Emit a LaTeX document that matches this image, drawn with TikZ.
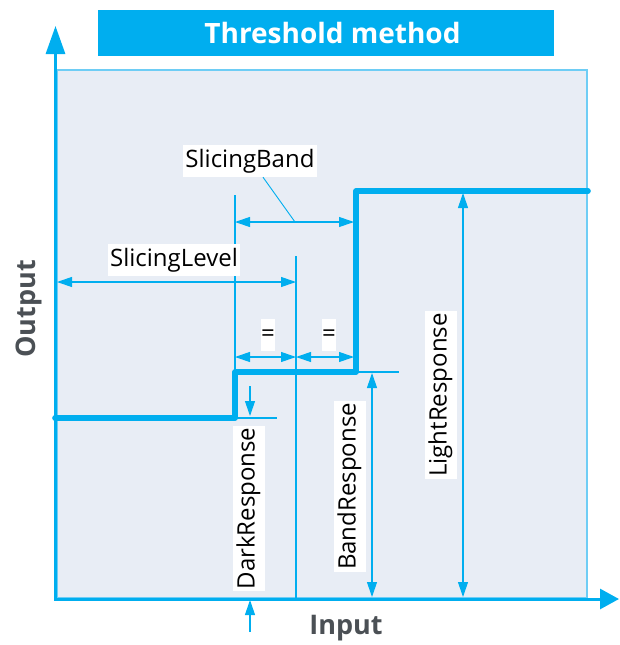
\documentclass[tikz,border=0pt]{standalone}
\usepackage{fontspec}
\setmainfont{Open Sans}
\usetikzlibrary{arrows.meta}
\definecolor{cyanblue}{RGB}{0,174,239}
\definecolor{panelfill}{RGB}{232,237,245}
\definecolor{panelline}{RGB}{110,205,245}
\definecolor{axisgray}{RGB}{75,80,85}
\tikzset{
  dim/.style={cyanblue,line width=1.1pt},
  dimarrow/.style={dim,{Triangle[length=15pt,width=10pt]}-{Triangle[length=15pt,width=10pt]}},
  tag/.style={fill=white,inner xsep=2pt,inner ysep=4pt,text height=18pt,text depth=6pt,font=\fontsize{24}{28}\selectfont},
  eqtag/.style={tag,inner xsep=0pt,minimum width=14pt},
  response/.style={cyanblue,line width=5.6pt,line cap=round,line join=round},
  axislabel/.style={text=axisgray,font=\bfseries\fontsize{27}{30}\selectfont}
}
\begin{document}
\begin{tikzpicture}[x=1pt,y=-1pt]
\useasboundingbox (0,0) rectangle (619,645);
\fill[cyanblue] (98,10) rectangle (554,56);
\node[text=white,font=\bfseries\fontsize{28}{32}\selectfont] (title) at (332.5,33) {Threshold method};
\draw[fill=panelfill,draw=panelline,line width=1.2pt] (57,70) rectangle (587,598);
\draw[dim] (235,195) -- (235,372);
\draw[dim] (296,256) -- (296,598);
\draw[dimarrow] (235,222) -- (354,222);
\draw[dimarrow] (57,282) -- (296,282);
\draw[dimarrow] (235,357) -- (296,357);
\draw[dimarrow] (296,357) -- (354,357);
\draw[dim] (358,372) -- (399,372);
\draw[dim] (235,418) -- (277,418);
\draw[dim,-{Triangle[length=15pt,width=10pt]}] (250,386) -- (250,416);
\draw[dim,-{Triangle[length=15pt,width=10pt]}] (250,632) -- (250,600);
\draw[dimarrow] (372,373) -- (372,597);
\draw[dimarrow] (463,193) -- (463,597);
\draw[response] (55,418) -- (235,418) -- (235,372) -- (356,372) -- (356,191) -- (588,191);
\node[tag] (bandlabel) at (250,161) {SlicingBand};
\node[tag] (levellabel) at (174,260) {SlicingLevel};
\node[eqtag] (eqleft) at (268,335) {=};
\node[eqtag] (eqright) at (329,335) {=};
\node[tag,rotate=90] (dark) at (248.5,508.5) {DarkResponse};
\node[tag,rotate=90] (bandresp) at (349.5,486.5) {BandResponse};
\node[tag,rotate=90] (light) at (440.5,395) {LightResponse};
\draw[dim,line width=0.9pt] ([xshift=13pt]bandlabel.south) -- (295,222);
\coordinate (O) at (55.5,599);
\coordinate (ytop) at (55.5,26);
\coordinate (xend) at (619,599);
\draw[cyanblue,line width=3pt,-{Triangle[length=28pt,width=19pt]}] ([yshift=-1.5pt]O) -- (ytop);
\draw[cyanblue,line width=3pt,-{Triangle[length=19pt,width=20pt]}] ([xshift=-1.5pt]O) -- (xend);
\node[axislabel,rotate=90] (output) at (28.5,309) {Output};
\node[axislabel] (input) at (346,628) {Input};
\end{tikzpicture}
\end{document}
